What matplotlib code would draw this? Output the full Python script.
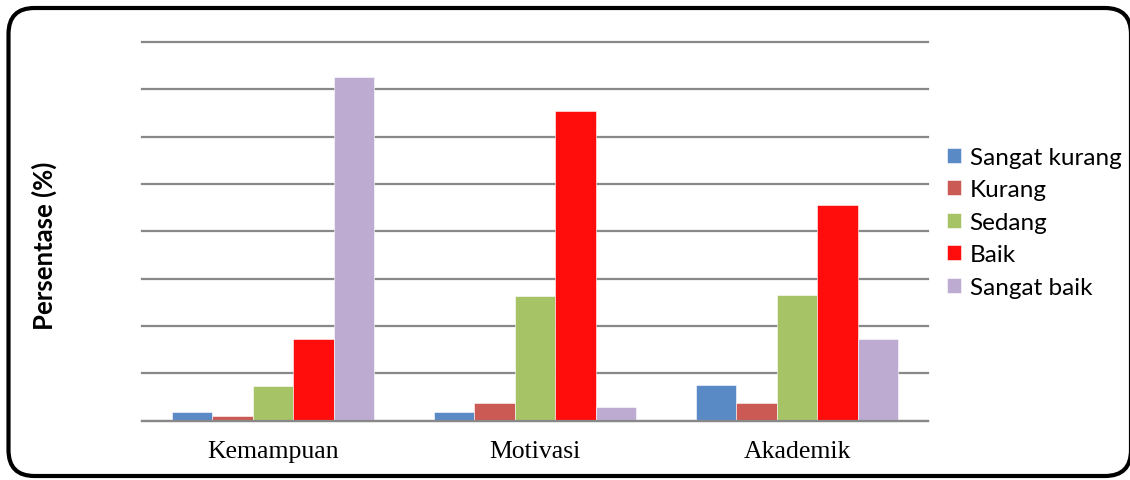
import matplotlib
matplotlib.use("Agg")
import matplotlib.pyplot as plt
import numpy as np
from matplotlib.patches import FancyBboxPatch
from matplotlib.transforms import IdentityTransform

categories = ["Kemampuan", "Motivasi", "Akademik"]
series_names = ["Sangat kurang", "Kurang", "Sedang", "Baik", "Sangat baik"]
sangat_kurang = [1.9, 1.8, 7.4]
kurang = [0.9, 3.6, 3.6]
sedang = [7.3, 26.3, 26.5]
baik = [17.3, 65.5, 45.5]
sangat_baik = [72.7, 2.8, 17.2]
series_values = [sangat_kurang, kurang, sedang, baik, sangat_baik]
colors = ["#5A8AC6", "#CB5A55", "#A6C466", "#FF0D0D", "#BDABD1"]

W, H = 1130, 481
fig = plt.figure(figsize=(W / 100, H / 100), dpi=100)
ax = fig.add_axes([142 / W, 1 - 421.5 / H, (928 - 142) / W, (421.5 - 43) / H])

x = np.arange(len(categories))
n = len(series_values)
bw = 0.77 / n
for i, (name, vals, c) in enumerate(zip(series_names, series_values, colors)):
    ax.bar(x - 0.385 + bw * (i + 0.5), vals, width=bw, color=c, label=name,
           edgecolor="white", linewidth=0.4, zorder=3)

ax.set_xlim(-0.5, len(categories) - 0.5)
ax.set_ylim(0, 80)
ax.set_yticks(np.arange(0, 81, 10))
ax.yaxis.grid(True, color="#888888", linewidth=1.6, zorder=0)
for gl in ax.get_ygridlines():
    gl.set_clip_on(False)
ax.set_axisbelow(True)
ax.tick_params(axis="y", length=0, labelleft=False)
ax.tick_params(axis="x", length=0, pad=14)
ax.set_xticks(x)
ax.set_xticklabels(categories, fontfamily="Liberation Serif", fontsize=18.5)
for s in ["top", "right", "left"]:
    ax.spines[s].set_visible(False)
ax.spines["bottom"].set_color("#888888")
ax.spines["bottom"].set_linewidth(1.6)
ax.spines["bottom"].set_zorder(4)

fig.text(44 / W, 1 - 246 / H, "Persentase (%)", rotation=90, ha="center", va="center",
         fontfamily="Lato", fontweight="bold", fontsize=18.5)

leg = fig.legend(loc="upper left", bbox_to_anchor=(947 / W, 1 - 148 / H), frameon=False,
                 prop={"family": "Lato", "size": 17.5}, handlelength=0.58, handleheight=0.58,
                 handletextpad=0.35, labelspacing=0.47, borderpad=0, borderaxespad=0)

border = FancyBboxPatch((8.5, 4), 1131 - 8.5, 472 - 4,
                        boxstyle="round,pad=0,rounding_size=26",
                        transform=IdentityTransform(), fill=False,
                        edgecolor="black", linewidth=3.0, clip_on=False)
fig.patches.append(border)

fig.savefig("out.png", dpi=100)
